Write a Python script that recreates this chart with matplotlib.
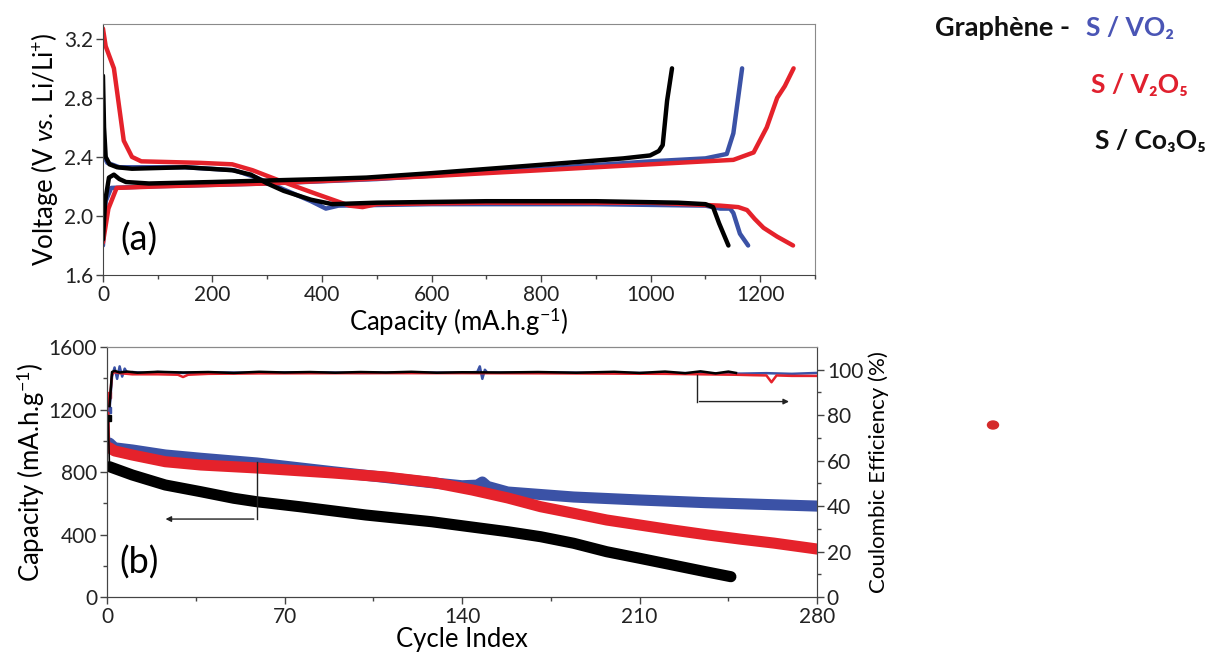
import matplotlib
matplotlib.use('Agg')
import matplotlib.pyplot as plt
from matplotlib.patches import Ellipse
import numpy as np

plt.rcParams['font.family'] = ['Lato', 'DejaVu Sans']
plt.rcParams['mathtext.fontset'] = 'custom'
plt.rcParams['mathtext.rm'] = 'Lato'
plt.rcParams['mathtext.it'] = 'Lato:italic'

BLUE = '#3b52a6'
RED = '#e5222b'
BLACK = '#000000'

# ---- (a) charge / discharge profiles: capacity (mAh/g), voltage (V) ----
vo2_dis_cap = [0, 8, 30, 150, 240, 280, 330, 380, 407, 430, 600, 900, 1100, 1127, 1145, 1151, 1163, 1178]
vo2_dis_v = [2.42, 2.36, 2.33, 2.33, 2.31, 2.26, 2.18, 2.10, 2.05, 2.07, 2.08, 2.08, 2.07, 2.05, 2.05, 2.02, 1.88, 1.80]
vo2_chg_cap = [0, 5, 15, 84, 300, 500, 800, 1000, 1100, 1139, 1151, 1167]
vo2_chg_v = [1.80, 2.10, 2.19, 2.20, 2.22, 2.25, 2.32, 2.37, 2.39, 2.42, 2.56, 3.00]

v2o5_dis_cap = [0, 5, 20, 38, 53, 70, 176, 236, 273, 322, 389, 450, 474, 500, 700, 1000, 1127, 1160, 1176, 1190, 1206, 1231, 1260]
v2o5_dis_v = [3.27, 3.15, 3.00, 2.51, 2.40, 2.37, 2.36, 2.35, 2.31, 2.24, 2.15, 2.07, 2.06, 2.08, 2.09, 2.09, 2.07, 2.06, 2.04, 1.98, 1.92, 1.86, 1.80]
v2o5_chg_cap = [0, 10, 25, 100, 300, 600, 900, 1100, 1151, 1188, 1212, 1231, 1245, 1261]
v2o5_chg_v = [1.82, 2.05, 2.19, 2.20, 2.22, 2.27, 2.33, 2.37, 2.38, 2.43, 2.60, 2.80, 2.88, 3.00]

co_dis_cap = [0, 2, 5, 12, 26, 53, 150, 236, 270, 300, 330, 380, 419, 500, 700, 900, 1050, 1100, 1114, 1125, 1142]
co_dis_v = [2.95, 2.60, 2.40, 2.35, 2.33, 2.32, 2.33, 2.31, 2.28, 2.22, 2.17, 2.11, 2.08, 2.09, 2.10, 2.10, 2.09, 2.08, 2.06, 1.95, 1.80]
co_chg_cap = [0, 4, 11, 20, 30, 42, 84, 200, 298, 400, 481, 600, 847, 950, 999, 1015, 1022, 1030, 1039]
co_chg_v = [1.84, 2.10, 2.26, 2.28, 2.25, 2.23, 2.22, 2.23, 2.24, 2.25, 2.26, 2.29, 2.36, 2.39, 2.41, 2.44, 2.48, 2.78, 3.00]

# ---- (b) cycling: cycle index, capacity (mAh/g) ----
vo2_cyc = [0.5, 1, 3, 10, 23, 37, 59, 89, 110, 129, 140, 146, 148, 150, 158, 184, 210, 236, 260, 280]
vo2_cap = [1200, 985, 955, 941, 909, 888, 858, 802, 765, 730, 712, 716, 736, 708, 672, 640, 621, 604, 592, 582]
v2o5_cyc = [0.5, 1, 3, 10, 23, 37, 59, 89, 110, 129, 144, 158, 171, 184, 197, 210, 223, 237, 250, 263, 280]
v2o5_cap = [1290, 955, 935, 909, 866, 845, 826, 794, 768, 732, 685, 634, 578, 536, 493, 461, 429, 397, 370, 345, 307]
co_cyc = [0.5, 1, 10, 23, 37, 50, 59, 76, 102, 128, 142, 158, 171, 184, 197, 210, 223, 236, 246]
co_cap = [1146, 834, 781, 717, 674, 632, 610, 578, 525, 482, 452, 418, 386, 344, 290, 248, 205, 162, 130]

# coulombic efficiency (%)
vo2_ce_cyc = [1, 2, 3, 4, 5, 6, 7, 8, 10, 15, 20, 30, 40, 60, 80, 100, 120, 140, 146, 147, 148, 149, 150, 170, 200, 230, 250, 260, 270, 280]
vo2_ce = [82, 97, 101, 96, 101.5, 97, 100.5, 98.5, 99, 98.6, 99, 98.6, 98.8, 98.7, 98.9, 98.6, 98.8, 98.7, 99, 101.5, 96, 100, 98.7, 98.8, 98.6, 98.5, 98.3, 98.5, 98.2, 98.6]
v2o5_ce_cyc = [1, 2, 3, 5, 10, 20, 28, 30, 32, 40, 60, 100, 140, 180, 220, 248, 255, 260, 262, 264, 270, 280]
v2o5_ce = [85, 98, 99, 98.5, 98, 98, 97.8, 96.8, 97.8, 98.2, 98.4, 98.5, 98.5, 98.4, 98.2, 97.8, 97.6, 97.5, 94.5, 97.5, 97.3, 97.3]
co_ce_cyc = [1, 2, 3, 5, 8, 12, 20, 30, 40, 50, 60, 70, 80, 90, 100, 110, 120, 130, 140, 155, 170, 185, 200, 210, 220, 228, 234, 240, 245, 248]
co_ce = [84, 99, 99.5, 98.8, 99.2, 98.7, 99.1, 98.8, 99, 98.6, 99.1, 98.8, 99, 98.7, 99, 98.8, 99.1, 98.7, 98.9, 98.8, 99, 98.7, 99.1, 98.6, 99.2, 98.5, 99.3, 98.4, 99.2, 98.6]

fig = plt.figure(figsize=(12.14, 6.57), dpi=100)
ax1 = fig.add_axes([0.0848, 0.5814, 0.5865, 0.382])
ax2 = fig.add_axes([0.0881, 0.0913, 0.585, 0.3805])
ax3 = ax2.twinx()


def style_axis(ax):
    for side in ['left', 'bottom']:
        ax.spines[side].set_color('#444444')
    for side in ['top', 'right']:
        ax.spines[side].set_color('#8a8a8a')
    ax.tick_params(which='both', direction='out', colors='#444444', labelcolor='#222222',
                   labelsize=15, width=1, pad=2)
    ax.tick_params(which='major', length=5)
    ax.tick_params(which='minor', length=3)


# panel (a)
for cap, v, c in [(vo2_dis_cap, vo2_dis_v, BLUE), (vo2_chg_cap, vo2_chg_v, BLUE),
                  (v2o5_dis_cap, v2o5_dis_v, RED), (v2o5_chg_cap, v2o5_chg_v, RED),
                  (co_dis_cap, co_dis_v, BLACK), (co_chg_cap, co_chg_v, BLACK)]:
    ax1.plot(cap, v, color=c, lw=3.2, solid_capstyle='round', solid_joinstyle='round')
ax1.set_xlim(0, 1300)
ax1.set_ylim(1.6, 3.3)
ax1.set_xticks(np.arange(0, 1201, 200))
ax1.set_xticks(np.arange(0, 1301, 100), minor=True)
ax1.set_yticks([1.6, 2.0, 2.4, 2.8, 3.2])
ax1.set_yticklabels(['1.6', '2.0', '2.4', '2.8', '3.2'])
style_axis(ax1)
ax1.set_xlabel('Capacity (mA.h.g$^{-1}$)', fontsize=18.5, labelpad=1)
ax1.set_ylabel('Voltage (V $\\it{vs.}$ Li/Li$^{+}$)', fontsize=18.5, labelpad=3)
ax1.text(0.024, 0.14, '(a)', transform=ax1.transAxes, fontsize=26, va='center')

# panel (b)
for cyc, cap, c in [(vo2_cyc, vo2_cap, BLUE), (v2o5_cyc, v2o5_cap, RED), (co_cyc, co_cap, BLACK)]:
    ax2.plot(cyc[:2], cap[:2], color=c, lw=1.2)
    ax2.plot(cyc[0], cap[0], 's', color=c, ms=5)
    ax2.plot(cyc[1:], cap[1:], color=c, lw=8, solid_capstyle='round', solid_joinstyle='round')
ax2.set_xlim(0, 280)
ax2.set_ylim(0, 1600)
ax2.set_xticks([0, 70, 140, 210, 280])
ax2.set_xticks(np.arange(0, 281, 35), minor=True)
ax2.set_yticks([0, 400, 800, 1200, 1600])
ax2.set_yticks(np.arange(0, 1601, 200), minor=True)
style_axis(ax2)
ax2.set_xlabel('Cycle Index', fontsize=18.5, labelpad=0)
ax2.set_ylabel('Capacity (mA.h.g$^{-1}$)', fontsize=18.5, labelpad=1)
ax2.text(0.018, 0.136, '(b)', transform=ax2.transAxes, fontsize=26, va='center')

for cyc, ce, c in [(vo2_ce_cyc, vo2_ce, BLUE), (v2o5_ce_cyc, v2o5_ce, RED), (co_ce_cyc, co_ce, BLACK)]:
    ax3.plot(cyc, ce, color=c, lw=1.8)
ax3.set_ylim(0, 110)
ax3.set_yticks([0, 20, 40, 60, 80, 100])
ax3.set_yticks(np.arange(0, 101, 10), minor=True)
style_axis(ax3)
ax3.spines['right'].set_color('#444444')
ax3.set_ylabel('Coulombic Efficiency (%)', fontsize=16, labelpad=4)

# arrows pointing to the axes
ax2.plot([59, 59], [864, 499], color='#222222', lw=1)
ax2.annotate('', xy=(22, 499), xytext=(59, 499),
             arrowprops=dict(arrowstyle='-|>', color='#222222', lw=1, mutation_scale=8))
ax3.plot([232.5, 232.5], [97.5, 86], color='#222222', lw=1)
ax3.annotate('', xy=(270, 86), xytext=(232.5, 86),
             arrowprops=dict(arrowstyle='-|>', color='#222222', lw=1, mutation_scale=8))

# legend text
fig.text(935 / 1214, 1 - 28 / 657, 'Graphène -', fontsize=19.5, fontweight='bold', color='#111111', va='center')
fig.text(1086 / 1214, 1 - 28 / 657, 'S / VO₂', fontsize=19, fontweight='bold', color='#4a55b5', va='center')
fig.text(1091 / 1214, 1 - 85 / 657, 'S / V₂O₅', fontsize=19, fontweight='bold', color='#e0202e', va='center')
fig.text(1095 / 1214, 1 - 141 / 657, 'S / Co₃O₅', fontsize=19, fontweight='bold', color='#111111', va='center')

fig.add_artist(Ellipse((993 / 1214, 1 - 425 / 657), 11 / 1214, 8 / 657,
                       transform=fig.transFigure, color='#d42a2a'))

fig.savefig('out.png', dpi=100)
